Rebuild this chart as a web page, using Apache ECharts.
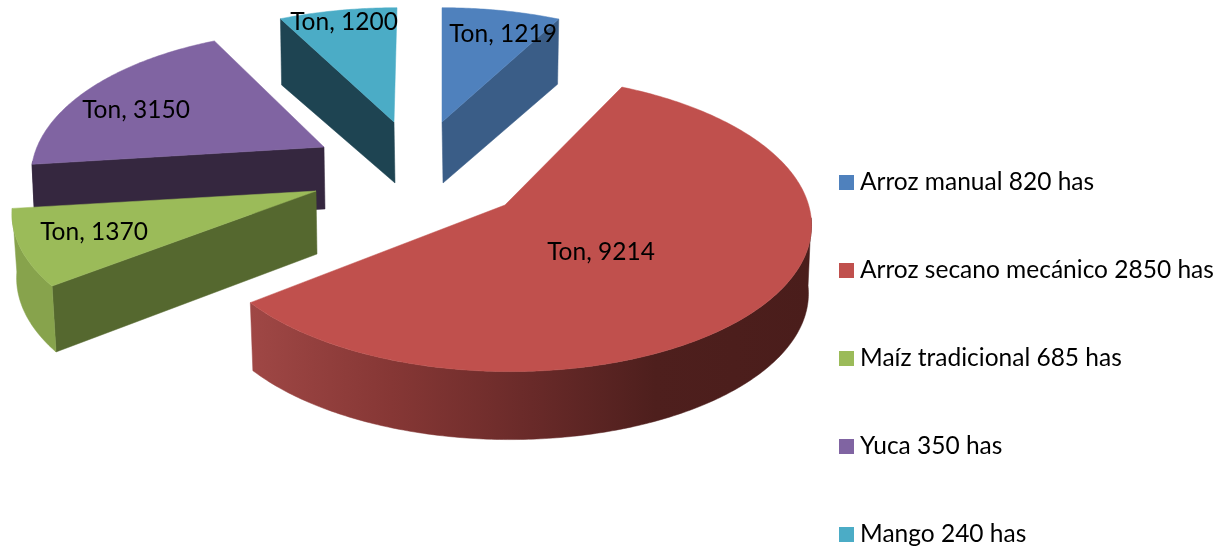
<!DOCTYPE html>
<html>
<head>
<meta charset="utf-8">
<style>html,body{margin:0;padding:0;background:#fff}#c{width:1220px;height:547px}</style>
<script src="https://cdn.jsdelivr.net/npm/echarts@6/dist/echarts.min.js"></script>
</head>
<body>
<div id="c"></div>
<script>
var categories = ['Arroz manual 820 has', 'Arroz secano mecánico 2850 has', 'Maíz tradicional 685 has', 'Yuca 350 has', 'Mango 240 has'];
var tons = [1219, 9214, 1370, 3150, 1200];
var labelPrefix = 'Ton';

var topColors = ['#4f81bd', '#c0504d', '#9bbb59', '#8064a2', '#4bacc6'];
var wallColors = ['#3a5d87', '#4a1d1b', '#55682f', '#35273f', '#1e4452'];
var rimColors = ['#3a5d87', null, '#87a34c', '#35273f', '#1e4452'];
var drawOrder = [3, 4, 2, 1, 0];
// exploded slice placement: apex, radii, perspective, skew, tilt, thickness
var slices = [
  {cx: 442, cy: 122, rx: 283, ry: 128, k: 0.12, sk: 0, tl: 0, depth: 61, sx: 0.99, sy: 0.96, wall: 'end', lx: 503, ly: 34},
  {cx: 505, cy: 205, rx: 303, ry: 146, k: 0.1235, sk: -8.7, tl: 2, depth: 68, sx: 0.99, sy: 1, wall: null, lx: 601, ly: 252},
  {cx: 316, cy: 191, rx: 300, ry: 141, k: 0.161, sk: 0, tl: 0, depth: 63, sx: 0.985, sy: 1.03, wall: 'start', lx: 94, ly: 232},
  {cx: 324, cy: 147, rx: 287, ry: 140, k: 0.2, sk: 0, tl: 0, depth: 62, sx: 0.99, sy: 1, wall: 'start', lx: 136, ly: 110},
  {cx: 394, cy: 122, rx: 286, ry: 128, k: 0.12, sk: 3, tl: 0, depth: 61, sx: 0.99, sy: 0.95, wall: 'start', lx: 344, ly: 22}
];

var total = tons.reduce(function (a, b) { return a + b; }, 0);
var startAngles = [];
tons.reduce(function (acc, t, i) { startAngles[i] = acc; return acc + t / total * 2 * Math.PI; }, 0);

function project(s, a, lower) {
  var u = Math.sin(a), v = Math.cos(a), w = 1 + s.k * v;
  var dx = s.rx * u / w + s.sk * v, dy = -s.ry * v / w - s.tl * u;
  return lower ? [s.cx + dx * s.sx, s.cy + dy * s.sy + s.depth] : [s.cx + dx, s.cy + dy];
}
function apex(s, lower) {
  return lower ? [s.cx + 1, s.cy + s.depth] : [s.cx, s.cy];
}
function arc(s, a0, a1, lower) {
  var pts = [], n = Math.max(2, Math.ceil(Math.abs(a1 - a0) / 0.012));
  for (var i = 0; i <= n; i++) pts.push(project(s, a0 + (a1 - a0) * i / n, lower));
  return pts;
}
function poly(points, fill) {
  return {type: 'polygon', silent: true, shape: {points: points}, style: {fill: fill, stroke: fill, lineWidth: 0.5}};
}

function makeRender(idx) {
  return function (params, api) {
    var s = slices[idx];
    var a0 = startAngles[idx];
    var a1 = a0 + api.value(0) / total * 2 * Math.PI;
    var kids = [];
    if (s.wall) {
      var a = s.wall === 'start' ? a0 : a1;
      kids.push(poly([apex(s), project(s, a), project(s, a, true), apex(s, true)], wallColors[idx]));
    }
    // outer rim, only the part turned towards the viewer
    var r0 = Math.max(a0, Math.PI / 2 + 0.1), r1 = Math.min(a1, 3 * Math.PI / 2 - 0.1);
    if (r1 > r0) {
      var fill = rimColors[idx] || {
        type: 'linear', x: 251, y: 0, x2: 812, y2: 0, global: true,
        colorStops: [
          {offset: 0, color: '#9f4745'},
          {offset: 0.25, color: '#863735'},
          {offset: 0.5, color: '#692a29'},
          {offset: 0.72, color: '#4e1f1d'},
          {offset: 1, color: '#4a1d1b'}
        ]
      };
      kids.push(poly(arc(s, r0, r1).concat(arc(s, r1, r0, true)), fill));
    }
    kids.push(poly([apex(s)].concat(arc(s, a0, a1)), topColors[idx]));
    kids.push({
      type: 'text', silent: true,
      style: {
        x: s.lx, y: s.ly, text: labelPrefix + ', ' + api.value(0),
        fill: '#000', font: '24.5px Lato', align: 'center', verticalAlign: 'middle'
      }
    });
    return {type: 'group', children: kids};
  };
}

var chart = echarts.init(document.getElementById('c'), null, {renderer: 'canvas'});
chart.setOption({
  animation: false,
  color: topColors,
  tooltip: {show: false},
  legend: {
    orient: 'vertical', left: 839, top: 170, padding: 0, height: 377 + 40,
    itemWidth: 15, itemHeight: 15, itemGap: 63, icon: 'rect',
    data: categories, selectedMode: false,
    textStyle: {fontFamily: 'Lato', fontSize: 24.5, color: '#000', lineHeight: 24, padding: [0, 0, 0, 1]}
  },
  series: categories.map(function (name, i) {
    return {
      type: 'custom', name: name, coordinateSystem: 'none',
      z: 2 + drawOrder.indexOf(i), silent: true,
      itemStyle: {color: topColors[i]},
      data: [[tons[i]]],
      renderItem: makeRender(i)
    };
  })
});
</script>
</body>
</html>
